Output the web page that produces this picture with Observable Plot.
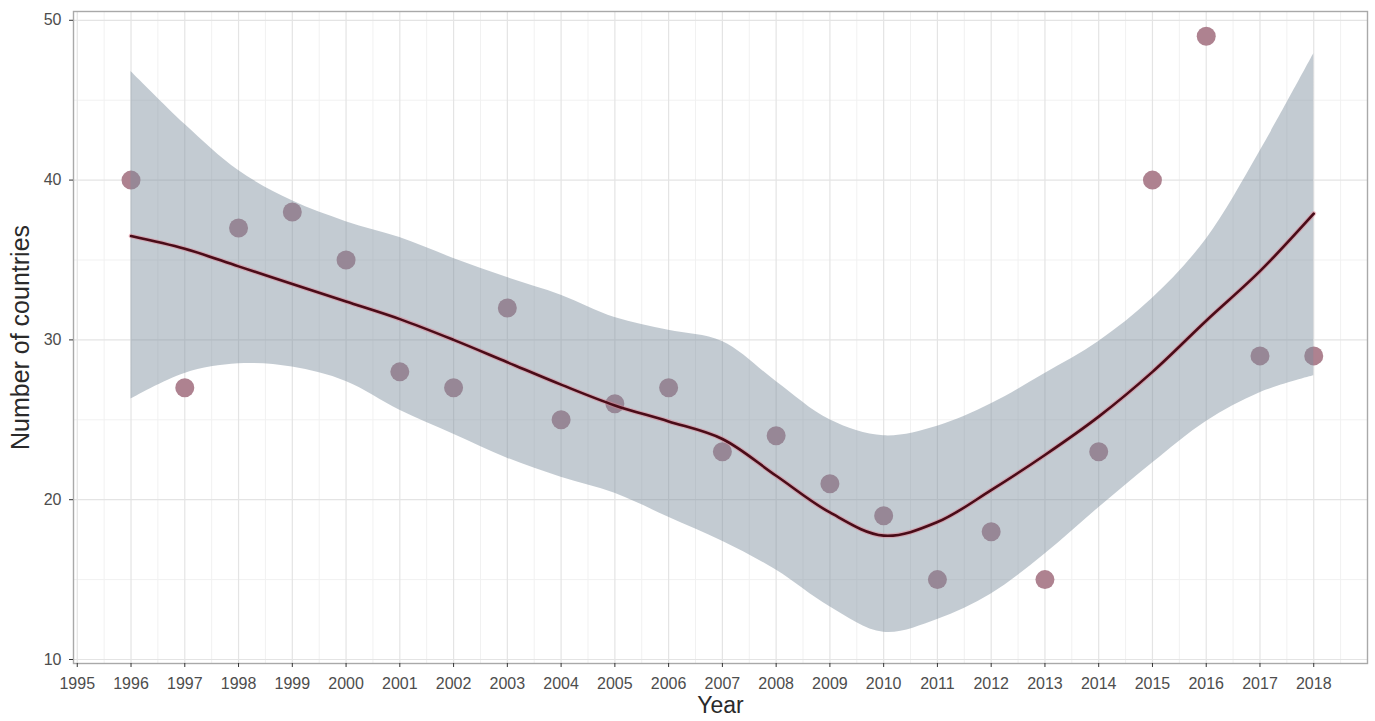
<!DOCTYPE html>
<html>
<head>
<meta charset="utf-8">
<script src="https://cdn.jsdelivr.net/npm/d3@7"></script>
<script src="https://cdn.jsdelivr.net/npm/@observablehq/plot@0.6"></script>
<style>
  html, body { margin: 0; padding: 0; background: #ffffff; }
  #chart svg { display: block; }
</style>
</head>
<body>
<div id="chart"></div>
<script>
// Observed data
const years = [1996,1997,1998,1999,2000,2001,2002,2003,2004,2005,2006,2007,2008,2009,2010,2011,2012,2013,2014,2015,2016,2017,2018];
const countries = [40,27,37,38,35,28,27,32,25,26,27,23,24,21,19,15,18,15,23,40,49,29,29];

// Smoothed fit and its confidence band
const smoothFit   = [36.5,35.7,34.6,33.5,32.4,31.3,30.0,28.6,27.2,25.9,24.9,23.8,21.5,19.2,17.75,18.6,20.6,22.8,25.2,28.0,31.2,34.3,37.9];
const smoothLower = [26.3,27.9,28.5,28.3,27.4,25.6,24.1,22.6,21.4,20.4,18.9,17.4,15.6,13.3,11.7,12.5,14.1,16.6,19.5,22.3,24.9,26.7,27.75];
const smoothUpper = [46.8,43.5,40.6,38.7,37.4,36.4,35.1,33.9,32.8,31.4,30.6,29.9,27.4,25.0,24.0,24.6,26.0,27.9,29.9,32.6,36.3,41.8,47.9];

// Tick labels
const xTicks = [1995,1996,1997,1998,1999,2000,2001,2002,2003,2004,2005,2006,2007,2008,2009,2010,2011,2012,2013,2014,2015,2016,2017,2018];
const yTicks = [10,20,30,40,50];
const xMinor = xTicks.map(d => d + 0.5);
const yMinor = yTicks.map(d => d + 5).filter(d => d < 50);

const points = years.map((year, i) => ({year, count: countries[i]}));
const smooth = years.map((year, i) => ({year, fit: smoothFit[i], lo: smoothLower[i], hi: smoothUpper[i]}));

const chart = Plot.plot({
  width: 1375,
  height: 721,
  marginLeft: 73,
  marginRight: 8,
  marginTop: 11,
  marginBottom: 58,
  style: {fontFamily: "'Liberation Sans', Arial, sans-serif", fontSize: "16px", color: "#4d4d4d", background: "#ffffff"},
  x: {domain: [1994.93, 2019.0], label: null},
  y: {domain: [9.75, 50.55], label: null},
  marks: [
    Plot.gridX(xMinor, {stroke: "#f1f1f1", strokeOpacity: 1, strokeWidth: 1}),
    Plot.gridY(yMinor, {stroke: "#f1f1f1", strokeOpacity: 1, strokeWidth: 1}),
    Plot.gridX(xTicks, {stroke: "#e4e4e4", strokeOpacity: 1, strokeWidth: 1.2}),
    Plot.gridY(yTicks, {stroke: "#e4e4e4", strokeOpacity: 1, strokeWidth: 1.2}),
    Plot.dot(points, {x: "year", y: "count", r: 9.5, fill: "#ae8290", stroke: "none"}),
    Plot.areaY(smooth, {x: "year", y1: "lo", y2: "hi", fill: "#7d8d9d", fillOpacity: 0.46, curve: "catmull-rom"}),
    Plot.line(smooth, {x: "year", y: "fit", stroke: "#e07a8c", strokeWidth: 4.8, strokeOpacity: 0.45, curve: "catmull-rom"}),
    Plot.line(smooth, {x: "year", y: "fit", stroke: "#4a0c18", strokeWidth: 2.6, curve: "catmull-rom"}),
    Plot.frame({stroke: "#a9a9a9", strokeWidth: 1.4}),
    Plot.axisX(xTicks, {tickSize: 4, tickPadding: 10, tickFormat: d => String(d), stroke: "#333333", fill: "#4d4d4d", label: null}),
    Plot.axisY(yTicks, {tickSize: 4, tickPadding: 8, stroke: "#333333", fill: "#4d4d4d", label: null}),
    Plot.text(["Year"], {frameAnchor: "bottom", dy: 49, fontSize: 23, fill: "#2a2a2a"}),
    Plot.text(["Number of countries"], {frameAnchor: "left", textAnchor: "middle", dx: -53, rotate: -90, fontSize: 25, fill: "#2a2a2a"})
  ]
});
document.getElementById("chart").appendChild(chart);
</script>
</body>
</html>
